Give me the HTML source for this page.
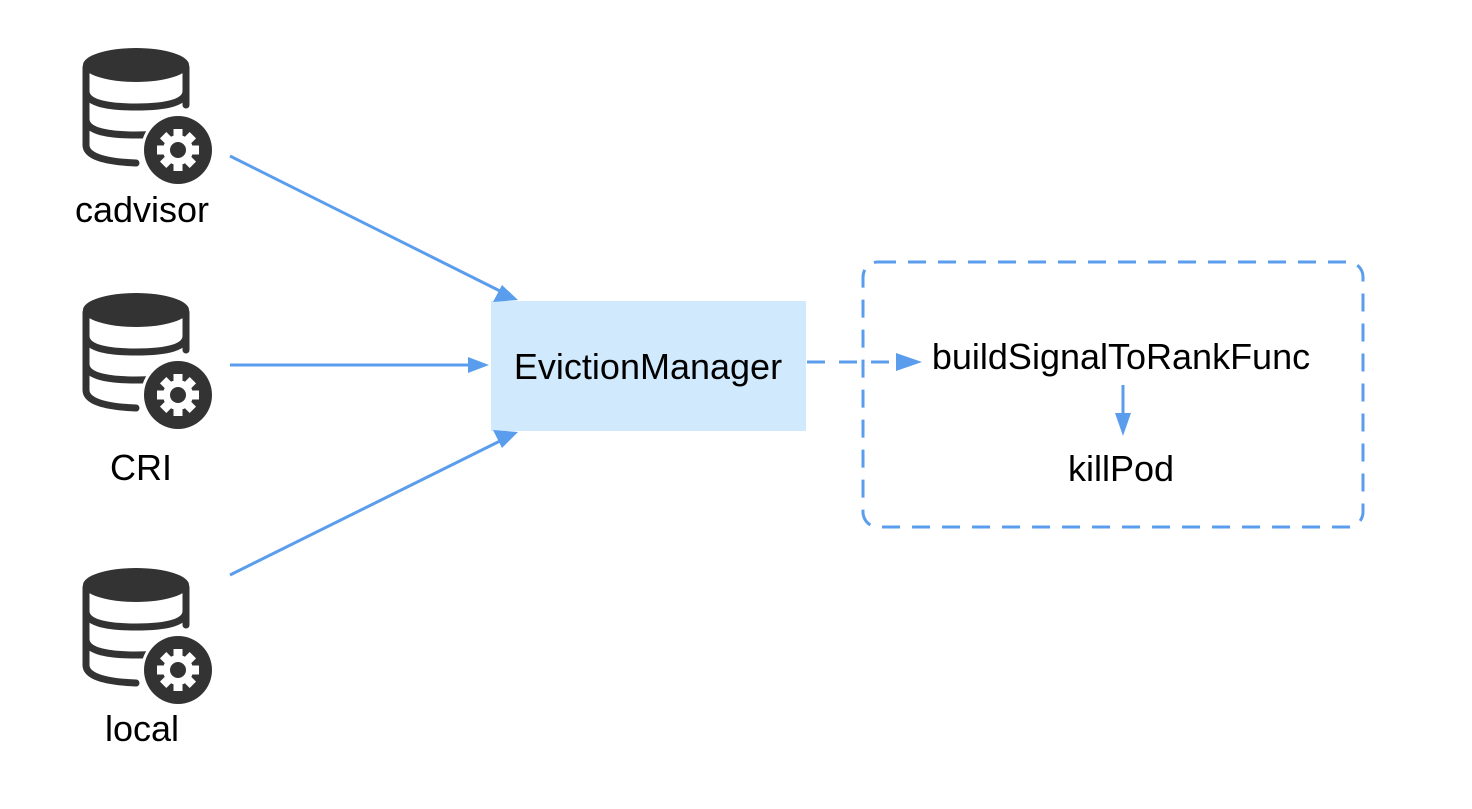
<!DOCTYPE html>
<html><head><style>
body{margin:0;background:#fff;width:1472px;height:804px;overflow:hidden}
svg text{font-family:"Liberation Sans",Arial,sans-serif;fill:#000}
</style></head><body>
<svg width="1472" height="804" viewBox="0 0 1472 804">
<defs>
<symbol id="db" overflow="visible">
  <g fill="none" stroke="#333" stroke-width="7" stroke-linecap="round">
    <path d="M6 22 V100 Q6 116 56 118"/>
    <path d="M106 22 V60"/>
    <path d="M6 46 Q6 62 56 62 Q106 62 106 46"/>
    <path d="M6 74 Q6 90 56 90 Q80 90 92 86"/>
  </g>
  <ellipse cx="56" cy="20" rx="53" ry="17" fill="#333"/>
  <circle cx="98" cy="105" r="37" fill="#fff"/>
  <circle cx="98" cy="105" r="34" fill="#333"/>
  <g transform="translate(98,105)" fill="#fff">
    <circle r="15"/>
    <rect x="-4.5" y="-21" width="9" height="9"/>
    <rect x="-4.5" y="-21" width="9" height="9" transform="rotate(45)"/>
    <rect x="-4.5" y="-21" width="9" height="9" transform="rotate(90)"/>
    <rect x="-4.5" y="-21" width="9" height="9" transform="rotate(135)"/>
    <rect x="-4.5" y="-21" width="9" height="9" transform="rotate(180)"/>
    <rect x="-4.5" y="-21" width="9" height="9" transform="rotate(225)"/>
    <rect x="-4.5" y="-21" width="9" height="9" transform="rotate(270)"/>
    <rect x="-4.5" y="-21" width="9" height="9" transform="rotate(315)"/>
    <circle r="8" fill="#333"/>
  </g>
</symbol>
</defs>
<use href="#db" x="80" y="45"/>
<use href="#db" x="80" y="290"/>
<use href="#db" x="80" y="565"/>
<g font-size="36" text-anchor="middle">
<text x="142" y="222">cadvisor</text>
<text x="141" y="480">CRI</text>
<text x="142" y="741">local</text>
</g>
<rect x="491" y="301" width="315" height="130" fill="#d1e9fc"/>
<text x="648" y="379" font-size="36" text-anchor="middle">EvictionManager</text>
<g stroke="#5b9ded" stroke-width="3" fill="none">
<line x1="230" y1="156" x2="500" y2="291"/>
<line x1="230" y1="365" x2="470" y2="365"/>
<line x1="230" y1="575" x2="500" y2="441"/>
<line x1="807" y1="362" x2="897" y2="362" stroke-dasharray="18 14"/>
<line x1="1123" y1="385" x2="1123" y2="415"/>
<rect x="863" y="262" width="500" height="265" rx="15" stroke-dasharray="18 12"/>
</g>
<g fill="#5b9ded">
<polygon points="518,300 493,302 502,285"/>
<polygon points="489,365 468,357 468,373"/>
<polygon points="518,432 502,448 493,430"/>
<polygon points="922,362 896,353 896,371"/>
<polygon points="1123,436 1115,413 1131,413"/>
</g>
<g font-size="36" text-anchor="middle">
<text x="1121" y="369">buildSignalToRankFunc</text>
<text x="1121" y="481">killPod</text>
</g>
</svg>
</body></html>
